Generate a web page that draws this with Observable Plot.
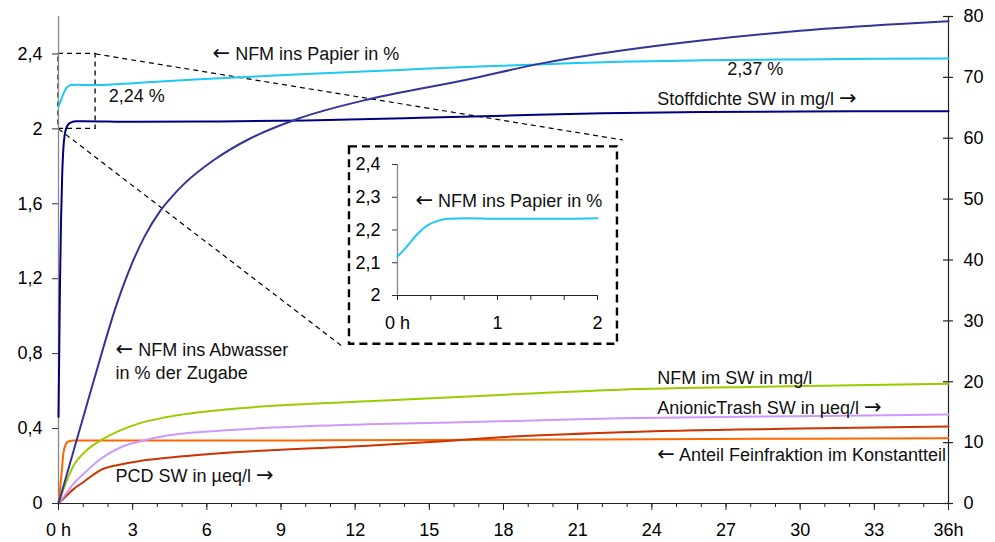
<!DOCTYPE html>
<html><head><meta charset="utf-8">
<script src="https://cdn.jsdelivr.net/npm/d3@7"></script>
<script src="https://cdn.jsdelivr.net/npm/@observablehq/plot@0.6"></script>
<style>
body{margin:0;background:#fff}
#wrap{position:relative;width:995px;height:542px;overflow:hidden}
#wrap svg{display:block}
</style>
</head><body><div id="wrap"></div>
<script>
// ---------- axis ticks ----------
const xTicks = [0,3,6,9,12,15,18,21,24,27,30,33,36];
const xTickLabels = ["0 h","3","6","9","12","15","18","21","24","27","30","33","36h"];
const leftTicks = [0,0.4,0.8,1.2,1.6,2,2.4];
const leftTickLabels = ["0","0,4","0,8","1,2","1,6","2","2,4"];
const rightTicks = [0,10,20,30,40,50,60,70,80];
const leftMax = 2.6, rightMax = 80;

const insetXTicks = [0,1,2];
const insetXTickLabels = ["0 h","1","2"];
const insetYTicks = [2,2.1,2.2,2.3,2.4];
const insetYTickLabels = ["2","2,1","2,2","2,3","2,4"];

// ---------- series: [hours, value] ----------
// left axis (%)
const nfmPapier = [[0,2.12],[0.03,2.128],[0.1,2.152],[0.2,2.188],[0.3,2.214],[0.4,2.228],[0.5,2.234],[0.7,2.236],[1,2.234],[1.4,2.234],[2,2.236],[3,2.244],[4,2.252],[5.7,2.265],[8,2.28],[10,2.293],[13.8,2.315],[17,2.333],[20,2.347],[22.7,2.358],[26,2.366],[30,2.371],[33,2.374],[36,2.376]];
const nfmAbwasser = [[0,0],[0.73,0.336],[1.43,0.658],[2.37,1.07],[3,1.29],[3.5,1.43],[4.13,1.565],[4.6,1.64],[5.07,1.705],[6.3,1.835],[7.77,1.95],[9.66,2.053],[12.6,2.16],[16.5,2.262],[19.6,2.351],[22.7,2.417],[26,2.472],[30,2.524],[34,2.56],[36,2.574]];
const feinfraktion = [[0,0],[0.05,0.06],[0.1,0.13],[0.15,0.2],[0.2,0.27],[0.3,0.318],[0.4,0.331],[0.6,0.336],[1,0.336],[5,0.336],[10,0.337],[15,0.339],[22,0.342],[30,0.346],[36,0.349]];
// right axis (mg/l, µeq/l)
const stoffdichte = [[0,14.2],[0.03,25],[0.06,36],[0.1,46],[0.15,54],[0.2,58.5],[0.3,61.5],[0.45,62.5],[0.7,62.8],[1,62.8],[3,62.7],[6,62.75],[10,62.9],[14,63.3],[18,63.7],[22,64.1],[26,64.3],[30,64.4],[36,64.45]];
const nfmSW = [[0,0],[0.3,3.4],[0.62,6.3],[1,8.2],[1.7,10.35],[2.5,12.0],[3.3,13.2],[4.4,14.2],[7.1,15.55],[12.5,16.8],[17.9,17.85],[22.7,18.7],[29,19.2],[36,19.66]];
const anionicTrash = [[0,0],[0.3,1.6],[0.62,3.3],[1,4.8],[1.7,7.3],[2.5,9.2],[3.45,10.34],[4.4,11.17],[7.1,12.1],[12.5,13.0],[17.9,13.5],[22.7,14.0],[30,14.35],[36,14.6]];
const pcdSW = [[0,0],[0.3,1.2],[0.62,2.4],[1,3.5],[1.7,5.5],[2.5,6.4],[3.3,7.0],[4.4,7.5],[7.1,8.4],[12.5,9.5],[15.2,10.15],[17.9,10.9],[22.7,11.7],[30,12.3],[36,12.65]];

// ---------- annotations (x in h, y in left-axis units) ----------
const labelText = ["← NFM ins Papier in %","2,24 %","2,37 %","Stoffdichte SW in mg/l →","← NFM ins Abwasser","in % der Zugabe","NFM im SW in mg/l","AnionicTrash SW in µeq/l →","← Anteil Feinfraktion im Konstantteil","PCD SW in µeq/l →"];
const labelX = [6.23,2.03,27.05,24.22,2.31,2.31,24.22,24.22,24.22,2.31];
const labelY = [2.396,2.173,2.321,2.16,0.818,0.695,0.668,0.508,0.257,0.144];

// zoom rectangle, connector lines, inset box (data units of the main chart)
const zoomBox = {x1:0, x2:1.5, y1:2.0, y2:2.4};
const insetBox = {x1:11.77, x2:22.61, y1:0.85, y2:1.904};
const connectors = [
  {x1:1.5, y1:2.4, x2:22.82, y2:1.941},
  {x1:0, y1:2.0, x2:11.53, y2:0.834}
];
const insetLabel = {x:0.18, y:2.288, text:"← NFM ins Papier in %"};

// ---------- colours ----------
const C = {papier:"#1EC8F5", abwasser:"#333399", stoff:"#000080", fein:"#FF6600", nfmSW:"#99CC00", anionic:"#CC99FF", pcd:"#CC3300"};

const font = "'Liberation Sans', Arial, sans-serif";
const k = leftMax / rightMax;
const lab = (ticks, labels) => d => labels[ticks.indexOf(d)];
const L = (data, stroke, f = 1) => Plot.line(data, {x: d => d[0], y: d => d[1] * f, stroke, strokeWidth: 2, curve: "monotone-x"});

const labels = labelText.map((t, i) => ({text: t, x: labelX[i], y: labelY[i]}));

const main = Plot.plot({
  width: 995, height: 542,
  marginLeft: 58, marginRight: 47, marginTop: 16, marginBottom: 39,
  style: {fontFamily: font, fontSize: "18px", background: "white", color: "black"},
  x: {domain: [0, 36], label: null},
  y: {domain: [0, leftMax], label: null},
  marks: [
    Plot.rect([insetBox], {x1:"x1", x2:"x2", y1:"y1", y2:"y2", fill:"white", stroke:"black", strokeWidth:2.4, strokeDasharray:"8,5"}),
    Plot.link(connectors, {x1:"x1", y1:"y1", x2:"x2", y2:"y2", stroke:"black", strokeWidth:1.2, strokeDasharray:"5,4"}),
    Plot.rect([zoomBox], {x1:"x1", x2:"x2", y1:"y1", y2:"y2", fill:"none", stroke:"black", strokeWidth:1.3, strokeDasharray:"5,4"}),
    // axis lines
    Plot.ruleX([0], {y1: 0, y2: leftMax, stroke: "#888", strokeWidth: 1.3}),
    Plot.ruleX([36], {y1: 0, y2: leftMax, stroke: "#222", strokeWidth: 1.2}),
    Plot.ruleY([0], {x1: 0, x2: 36, stroke: "#222", strokeWidth: 1.2}),
    // series
    L(feinfraktion, C.fein),
    L(pcdSW, C.pcd, k),
    L(anionicTrash, C.anionic, k),
    L(nfmSW, C.nfmSW, k),
    L(nfmPapier, C.papier),
    L(stoffdichte, C.stoff, k),
    L(nfmAbwasser, C.abwasser),
    // axes
    Plot.axisX(d3.range(0, 37), {tickSize: 4, tickFormat: () => "", stroke: "#222", label: null}),
    Plot.axisX(xTicks, {tickSize: 7, tickPadding: 13, tickFormat: lab(xTicks, xTickLabels), stroke: "#222", fontSize: 18, label: null}),
    Plot.axisY(leftTicks, {anchor: "left", tickSize: 6, tickPadding: 10, tickFormat: lab(leftTicks, leftTickLabels), stroke: "#333", fontSize: 18, label: null}),
    Plot.ruleY(rightTicks.map(v => v * k), {y: d => d, x1: 36, x2: 36, insetLeft: -5, insetRight: -5, stroke: "#222", strokeWidth: 1.2}),
    Plot.axisY(rightTicks.map(v => v * k), {anchor: "right", tickSize: 0, tickPadding: 15, tickFormat: d => String(Math.round(d / k)), fontSize: 18, label: null}),
    // annotations
    Plot.text(labels, {x: "x", y: "y", text: "text", textAnchor: "start", lineAnchor: "middle", fontSize: 18, fill: "#111"})
  ]
});

const wrap = document.getElementById("wrap");
wrap.appendChild(main);

const sx = main.scale("x"), sy = main.scale("y");
const bx1 = sx.apply(insetBox.x1), bx2 = sx.apply(insetBox.x2);
const by1 = sy.apply(insetBox.y2), by2 = sy.apply(insetBox.y1);
const iw = Math.round(bx2 - bx1), ih = Math.round(by2 - by1);

const inset = Plot.plot({
  width: iw, height: ih,
  marginLeft: 48, marginRight: 20, marginTop: 18, marginBottom: 48,
  style: {fontFamily: font, fontSize: "18px", background: "transparent", color: "black", overflow: "visible"},
  x: {domain: [0, 2], label: null},
  y: {domain: [2, 2.4], label: null},
  marks: [
    Plot.ruleX([0], {y1: 2, y2: 2.4, stroke: "#888", strokeWidth: 1.3}),
    Plot.ruleY([2], {x1: 0, x2: 2, stroke: "#222", strokeWidth: 1.2}),
    Plot.line(nfmPapier.filter(d => d[0] <= 2), {x: d => d[0], y: d => d[1], stroke: C.papier, strokeWidth: 2, curve: "monotone-x"}),
    Plot.axisX(d3.range(0, 7).map(i => i / 3), {tickSize: 5, tickFormat: () => "", stroke: "#222", label: null}),
    Plot.axisX(insetXTicks, {tickSize: 5, tickPadding: 16, tickFormat: lab(insetXTicks, insetXTickLabels), stroke: "#222", fontSize: 18, label: null}),
    Plot.axisY(insetYTicks, {anchor: "left", tickSize: 5, tickPadding: 12, tickFormat: lab(insetYTicks, insetYTickLabels), stroke: "#333", fontSize: 18, label: null}),
    Plot.text([insetLabel], {x: "x", y: "y", text: "text", textAnchor: "start", lineAnchor: "middle", fontSize: 18, fill: "#111"})
  ]
});
inset.style.position = "absolute";
inset.style.left = Math.round(bx1) + "px";
inset.style.top = Math.round(by1) + "px";
wrap.appendChild(inset);

// render arrow glyphs with a font whose arrows are full-width
for (const t of wrap.querySelectorAll("text")) {
  const s = t.textContent;
  if (!/[←→]/.test(s) || t.children.length) continue;
  t.textContent = "";
  for (const part of s.split(/([←→])/)) {
    if (!part) continue;
    const ts = document.createElementNS("http://www.w3.org/2000/svg", "tspan");
    ts.textContent = part;
    if (part === "←" || part === "→") {
      ts.setAttribute("font-family", "DejaVu Sans");
      ts.setAttribute("font-size", "21");
    }
    t.appendChild(ts);
  }
}
</script></body></html>
